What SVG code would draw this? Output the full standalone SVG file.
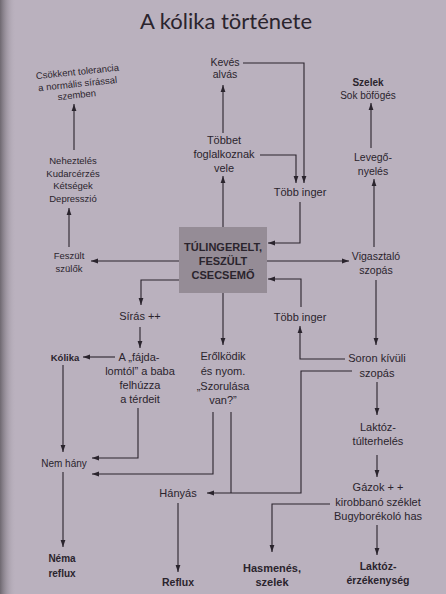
<svg xmlns="http://www.w3.org/2000/svg" width="446" height="594" viewBox="0 0 446 594">
<defs>
<linearGradient id="edge" x1="0" y1="0" x2="1" y2="0">
<stop offset="0" stop-color="#6e6870"/>
<stop offset="1" stop-color="#bab1be" stop-opacity="0"/>
</linearGradient>
<marker id="ah" markerUnits="userSpaceOnUse" markerWidth="8" markerHeight="6" refX="7" refY="3" orient="auto">
<path d="M0,0.6 L7,3 L0,5.4 z" fill="#2a242d"/>
</marker>
<style>
text{font-family:"Liberation Sans",Arial,sans-serif;fill:#2a242d;text-anchor:middle;font-size:11px}
.b{font-weight:bold}
.s{font-size:9.5px}
.m{font-size:10.5px}
#connectors path{fill:none;stroke:#2a242d;stroke-width:1.1;marker-end:url(#ah)}
#connectors path.n{marker-end:none}
</style>
</defs>
<rect width="446" height="594" fill="#bab1be"/>
<rect width="16" height="594" fill="url(#edge)"/>
<text x="226" y="29" style="font-family:Lato,'Open Sans',sans-serif;font-size:22px">A kólika története</text>

<g id="connectors">
<path d="M243,63 H304 V183"/>
<path d="M260,155 H296 V183"/>
<path d="M223,133 V85"/>
<path d="M223,227 V176"/>
<path d="M300,202 V243 H268"/>
<path d="M267,261 H349"/>
<path d="M301,307 V279 H268"/>
<path d="M179,261 H91"/>
<path d="M179,280 H141 V305"/>
<path d="M69,247 V208"/>
<path d="M74,150 V104"/>
<path d="M223,293 V345"/>
<path d="M374,247 V179"/>
<path d="M371,148 V103"/>
<path d="M376,280 V345"/>
<path d="M345,359 H300 V326"/>
<path d="M352,371 H301 V493 H207"/>
<path class="n" d="M231,412 V493"/>
<path d="M213,412 V474 H92"/>
<path d="M138,408 V458 H92"/>
<path d="M140,327 V348"/>
<path d="M115,357 H83"/>
<path d="M63,365 V452"/>
<path d="M63,472 V547"/>
<path d="M178,503 V572"/>
<path d="M377,382 V415"/>
<path d="M377,455 V477"/>
<path d="M330,504 H272 V552"/>
<path d="M377,525 V555"/>
</g>

<g id="n-keves" class="m"><text x="225" y="66" class="m">Kevés</text><text x="225" y="78" class="m">alvás</text></g>
<g id="n-tobbet"><text x="224" y="144">Többet</text><text x="224" y="158">foglalkoznak</text><text x="224" y="172">vele</text></g>
<g id="n-tobb1"><text x="300" y="196">Több inger</text></g>
<g id="n-center"><rect x="179" y="227" width="88" height="66" fill="#958c96"/><text x="223" y="251" class="b">TÚLINGERELT,</text><text x="223" y="265" class="b">FESZÜLT</text><text x="223" y="279" class="b">CSECSEMŐ</text></g>
<g id="n-feszult"><text x="69" y="259" class="s">Feszült</text><text x="69" y="272" class="s">szülők</text></g>
<g id="n-nehez"><text x="73" y="164" class="s">Neheztelés</text><text x="73" y="177" class="s">Kudarcérzés</text><text x="73" y="189" class="s">Kétségek</text><text x="73" y="202" class="s">Depresszió</text></g>
<g id="n-csokkent" transform="rotate(-6 78 87)"><text x="79" y="75" class="s">Csökkent tolerancia</text><text x="78" y="87" class="s">a normális sírással</text><text x="76" y="98" class="s">szemben</text></g>
<g id="n-szelek"><text x="368" y="86" class="b" style="font-size:10px">Szelek</text><text x="368" y="99" style="font-size:10px">Sok böfögés</text></g>
<g id="n-levego"><text x="373" y="161" class="m">Levegő-</text><text x="373" y="175" class="m">nyelés</text></g>
<g id="n-vigasz"><text x="376" y="260" class="m">Vigasztaló</text><text x="376" y="274" class="m">szopás</text></g>
<g id="n-soron"><text x="377" y="362">Soron kívüli</text><text x="377" y="377">szopás</text></g>
<g id="n-tobb2"><text x="300" y="321">Több inger</text></g>
<g id="n-siras"><text x="140" y="320">Sírás ++</text></g>
<g id="n-fajda"><text x="139" y="361">A „fájda-</text><text x="140" y="375">lomtól” a baba</text><text x="140" y="389">felhúzza</text><text x="140" y="403">a térdeit</text></g>
<g id="n-kolika"><text x="65" y="361" class="b s">Kólika</text></g>
<g id="n-erol"><text x="223" y="360">Erőlködik</text><text x="223" y="375">és nyom.</text><text x="223" y="390">„Szorulása</text><text x="223" y="404">van?”</text></g>
<g id="n-nemhany"><text x="64" y="467" style="font-size:10px">Nem hány</text></g>
<g id="n-nema"><text x="62" y="562" class="b" style="font-size:10px">Néma</text><text x="62" y="577" class="b" style="font-size:10px">reflux</text></g>
<g id="n-hanyas"><text x="178" y="497">Hányás</text></g>
<g id="n-reflux"><text x="178" y="586" class="b m">Reflux</text></g>
<g id="n-laktoz1"><text x="378" y="431">Laktóz-</text><text x="378" y="445">túlterhelés</text></g>
<g id="n-gazok"><text x="378" y="491">Gázok + +</text><text x="378" y="506">kirobbanó széklet</text><text x="378" y="520">Bugyborékoló has</text></g>
<g id="n-hasmenes"><text x="272" y="572" class="b">Hasmenés,</text><text x="272" y="586" class="b">szelek</text></g>
<g id="n-laktoz2"><text x="378" y="570" class="b m">Laktóz-</text><text x="378" y="584" class="b m">érzékenység</text></g>
</svg>
